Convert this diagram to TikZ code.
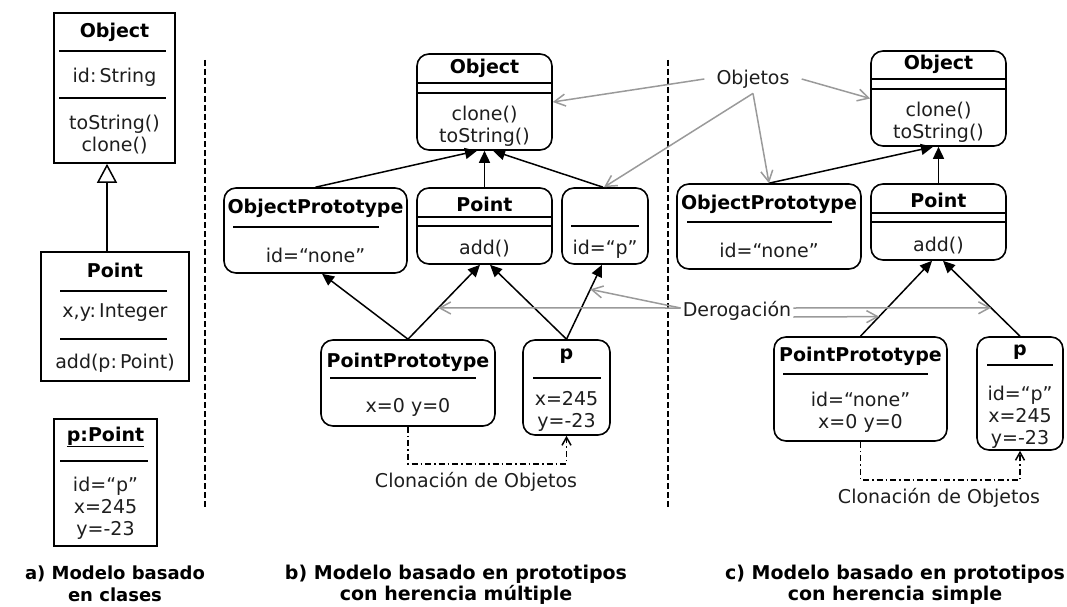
\documentclass[tikz,border=0pt]{standalone}
\usepackage{fontspec}
\setmainfont{DejaVu Sans}
\usetikzlibrary{arrows.meta, calc}
\definecolor{ink}{HTML}{1E1E1E}
\definecolor{lngray}{HTML}{9A9A9A}
\newcommand{\bodyfont}{\fontsize{19}{22}\selectfont}
\newcommand{\ttlfont}{\fontsize{19}{22}\selectfont\bfseries}
\newcommand{\captfont}{\fontsize{19}{21}\selectfont\bfseries}
\newcommand{\captsmall}{\fontsize{18}{22}\selectfont\bfseries}

\begin{document}
\begin{tikzpicture}[x=1pt, y=-1pt,
  umlbox/.style={draw, line width=1.6pt, inner sep=0pt, fill=white},
  objbox/.style={umlbox, rounded corners=12pt},
  ttl/.style={font=\ttlfont, inner sep=0pt},
  txt/.style={font=\bodyfont, text=ink, align=center, inner sep=0pt},
  sepline/.style={line width=1.5pt},
  inh/.style={-{Triangle[length=12pt, width=11pt]}, line width=1.5pt},
  gen/.style={-{Triangle[open, length=19pt, width=20pt, fill=white]}, line width=1.5pt},
  ptr/.style={-{Straight Barb[length=11pt, width=12pt]}, lngray, line width=1.5pt},
  clon/.style={-{Straight Barb[length=8pt, width=9pt]}, line width=1.5pt,
    dash pattern=on 6pt off 3pt on 1.5pt off 3pt},
  divider/.style={line width=1.5pt, dash pattern=on 6pt off 3pt},
  capt/.style={font=\captfont, align=center, inner sep=0pt},
  note/.style={font=\bodyfont, text=ink}]

\useasboundingbox (0,0) rectangle (1067,607);

% ---- a) class based model ----
\node[umlbox, minimum width=121, minimum height=150] (objA) at (114.5,88) {};
\node[ttl] (objAname) at (114.5,32) {Object};
\draw[sepline] (59,51) -- (166,51);
\node[txt] (objAattr) at (114.5,77) {id:\,String};
\draw[sepline] (59,98) -- (166,98);
\node[txt] (objAops) at (114.5,134.5) {toString()\\clone()};

\node[umlbox, minimum width=148, minimum height=129] (pointA) at (115,316.5) {};
\node[ttl] (pointAname) at (115,270.7) {Point};
\draw[sepline] (60,291) -- (167,291);
\node[txt] (pointAattr) at (115,313) {x,y:\,Integer};
\draw[sepline] (60,339) -- (167,339);
\node[txt] (pointAops) at (115,363) {add(p:\,Point)};

\draw[gen] ([xshift=-8pt]pointA.north) -- ([xshift=-7.5pt]objA.south);

\node[umlbox, minimum width=103, minimum height=127] (pA) at (105.5,482.5) {};
\node[ttl] (pAname) at (105.5,437) {\underline{p:Point}};
\draw[sepline] (60,461) -- (148,461);
\node[txt] (pAvals) at (105.5,508) {id=“p”\\x=245\\y=-23};

\node[capt, font=\captsmall] (captA) at (115,583.5) {a) Modelo basado\\en clases};

% separators
\draw[divider] (205,60) -- (205,508);
\draw[divider] (668,60) -- (668,508);

% ---- b) prototypes, multiple inheritance ----
\node[objbox, minimum width=135, minimum height=96] (objB) at (484.5,102) {};
\node[ttl] (objBname) at (484.5,68) {Object};
\draw[sepline] (417,83) -- (552,83);
\draw[sepline] (417,93) -- (552,93);
\node[txt] (objBops) at (484.5,126) {clone()\\toString()};

\node[objbox, minimum width=183, minimum height=85] (oprotoB) at (315.5,230.5) {};
\node[ttl] (oprotoBname) at (315.5,208) {ObjectPrototype};
\draw[sepline] (233,227) -- (379,227);
\node[txt] (oprotoBvals) at (315.5,255) {id=“none”};

\node[objbox, minimum width=135, minimum height=76] (pointB) at (484.5,226) {};
\node[ttl] (pointBname) at (484.5,204) {Point};
\draw[sepline] (417,217) -- (552,217);
\draw[sepline] (417,226) -- (552,226);
\node[txt] (pointBops) at (484.5,249) {add()};

\node[objbox, minimum width=86, minimum height=76] (anonB) at (605,226) {};
\draw[sepline] (571,226) -- (639,226);
\node[txt] (anonBvals) at (605,249) {id=“p”};

\node[objbox, minimum width=174, minimum height=86] (pprotoB) at (408,383) {};
\node[ttl] (pprotoBname) at (408,362) {PointPrototype};
\draw[sepline] (330,378) -- (476,378);
\node[txt] (pprotoBvals) at (408,407) {x=0 y=0};

\node[objbox, minimum width=87, minimum height=95] (pB) at (566.5,387.5) {};
\node[ttl] (pBname) at (566.5,356) {p};
\draw[sepline] (533,378) -- (601,378);
\node[txt] (pBvals) at (566.5,411) {x=245\\y=-23};

\draw[inh] (oprotoB.north) -- ([xshift=-7.5pt]objB.south);
\draw[inh] (pointB.north) -- (objB.south);
\draw[inh] ([xshift=-2pt]anonB.north) -- ([xshift=8.5pt]objB.south);
\draw[inh] (pprotoB.north) -- ([xshift=6.5pt]oprotoB.south);
\draw[inh] (pprotoB.north) -- coordinate[pos=0.42] (delB1) ([xshift=-4.5pt]pointB.south);
\draw[inh] (pB.north) -- ([xshift=5.5pt]pointB.south);
\draw[inh] (pB.north) -- coordinate[pos=0.67] (delB2) ([xshift=-3pt]anonB.south);

\draw[clon] (pprotoB.south) -- ++(0,37) -| (pB.south);
\node[note] (clonB) at (476,482) {Clonación de Objetos};

\node[capt] (captB) at (456,584.5) {b) Modelo basado en prototipos\\con herencia múltiple};

% ---- c) prototypes, single inheritance ----
\node[objbox, minimum width=135, minimum height=95] (objC) at (938.5,98.5) {};
\node[ttl] (objCname) at (938.5,64) {Object};
\draw[sepline] (871,79) -- (1006,79);
\draw[sepline] (871,89) -- (1006,89);
\node[txt] (objCops) at (938.5,122.5) {clone()\\toString()};

\node[objbox, minimum width=184, minimum height=85] (oprotoC) at (769,226.5) {};
\node[ttl] (oprotoCname) at (769,204) {ObjectPrototype};
\draw[sepline] (687,222) -- (832,222);
\node[txt] (oprotoCvals) at (769,250) {id=“none”};

\node[objbox, minimum width=135, minimum height=76] (pointC) at (938.5,222) {};
\node[ttl] (pointCname) at (938.5,200) {Point};
\draw[sepline] (871,213) -- (1006,213);
\draw[sepline] (871,222) -- (1006,222);
\node[txt] (pointCops) at (938.5,246) {add()};

\node[objbox, minimum width=173, minimum height=104] (pprotoC) at (860.5,389) {};
\node[ttl] (pprotoCname) at (860.5,356) {PointPrototype};
\draw[sepline] (783,374) -- (928,374);
\node[txt] (pprotoCvals) at (860.5,412) {id=“none”\\x=0 y=0};

\node[objbox, minimum width=86, minimum height=113] (pC) at (1020,393.5) {};
\node[ttl] (pCname) at (1020,352) {p};
\draw[sepline] (987,365) -- (1053,365);
\node[txt] (pCvals) at (1020,417) {id=“p”\\x=245\\y=-23};

\draw[inh] (oprotoC.north) -- ([xshift=-5.5pt]objC.south);
\draw[inh] (pointC.north) -- (objC.south);
\draw[inh] (pprotoC.north) -- coordinate[pos=0.26] (delC1) ([xshift=-6.5pt]pointC.south);
\draw[inh] (pC.north) -- coordinate[pos=0.377] (delC2) ([xshift=4.5pt]pointC.south);

\draw[clon] (pprotoC.south) -- ++(0,38) -| (pC.south);
\node[note] (clonC) at (939,498) {Clonación de Objetos};

\node[capt] (captC) at (895,585) {c) Modelo basado en prototipos\\con herencia simple};

% ---- gray pointers ----
\node[note, inner xsep=12pt, inner ysep=5pt] (objetos) at (753,79) {Objetos};
\draw[ptr] (objetos.west) -- (objB.east);
\draw[ptr] (objetos.east) -- (objC.west);
\draw[ptr] (objetos.south) -- (oprotoC.north);
\draw[ptr] (objetos.south) -- ([xshift=-1pt]anonB.north);

\node[note, inner xsep=2pt] (derog) at (737,311) {Derogación};
\draw[ptr] ([yshift=3pt]derog.west) -- (delB1);
\draw[ptr] ([yshift=3pt]derog.west) -- (delB2);
\draw[ptr] ([yshift=3pt]derog.east) -- (delC2);
\draw[ptr] ([yshift=-6pt]derog.east) -- (delC1);

\end{tikzpicture}
\end{document}
